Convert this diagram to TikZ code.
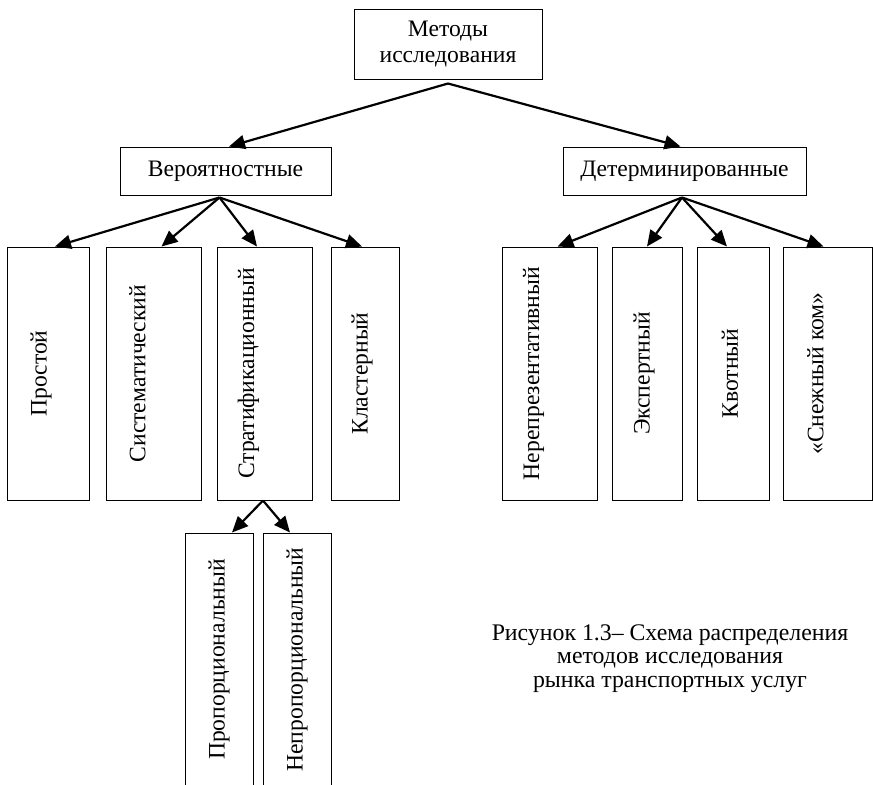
\documentclass[tikz,border=0pt]{standalone}
\usepackage{fontspec}
\setmainfont{Liberation Serif}
\usetikzlibrary{arrows.meta,calc,positioning}
\tikzset {
  >={Triangle[length=8pt,width=7pt]},
  every node/.style={font=\fontsize{11.8}{13}\selectfont},
  box/.style={draw,line width=0.5pt,inner sep=0pt},
  colbox/.style={box,minimum height=126.5pt},
  vtext/.style={rotate=90,inner sep=0pt},
  link/.style={->,line width=1.1pt},
}

\begin{document}
\begin{tikzpicture}[x=0.5pt,y=-0.5pt]
  \useasboundingbox (0,0) rectangle (873,784);
  \clip (0,0) rectangle (873,784);
  % upper levels
  \node[box,align=center,minimum width=94pt,minimum height=35pt] (methods) at (448,44) {Методы\\исследования};
  \node[box,minimum width=105.5pt,minimum height=24pt] (prob) at (225.5,171) {Вероятностные};
  \node[box,minimum width=121.5pt,minimum height=24pt] (det) at (684.5,171) {Детерминированные};
  % probabilistic sampling
  \node[colbox,minimum width=41pt] (simple) at (48,373.5) {};
  \node[colbox,minimum width=47.5pt] (system) at (153.5,373.5) {};
  \node[colbox,minimum width=47.5pt] (strat) at (264.5,373.5) {};
  \node[colbox,minimum width=34pt] (cluster) at (365,373.5) {};
  \node[vtext] (simple-t) at ([xshift=-3.5pt]simple.center) {Простой};
  \node[vtext] (system-t) at ([xshift=-8pt]system.center) {Систематический};
  \node[vtext] (strat-t) at ([xshift=-8pt]strat.center) {Стратификационный};
  \node[vtext] (cluster-t) at ([xshift=-1.5pt]cluster.center) {Кластерный};
  % deterministic sampling
  \node[colbox,minimum width=47.5pt] (nonrep) at (549.5,373.5) {};
  \node[colbox,minimum width=35pt] (expert) at (647,373.5) {};
  \node[colbox,minimum width=36pt] (quota) at (733,373.5) {};
  \node[colbox,minimum width=44.5pt] (snow) at (827.5,373.5) {};
  \node[vtext] (nonrep-t) at ([xshift=-8pt]nonrep.center) {Нерепрезентативный};
  \node[vtext] (expert-t) at ([xshift=-1.5pt]expert.center) {Экспертный};
  \node[vtext] (quota-t) at ([xshift=-1.5pt]quota.center) {Квотный};
  \node[vtext] (snow-t) at ([xshift=-6pt]snow.center) {«Снежный ком»};
  % stratified subtypes
  \node[colbox,minimum width=34pt] (prop) at (219,659.5) {};
  \node[colbox,minimum width=34pt] (nonprop) at (297,659.5) {};
  \node[vtext] (prop-t) at (prop.center) {Пропорциональный};
  \node[vtext] (nonprop-t) at (nonprop.center) {Непропорциональный};
  % arrows
  \coordinate (methods-o) at ([yshift=-2pt]methods.south);
  \coordinate (prob-o) at ([xshift=-3pt,yshift=-1pt]prob.south);
  \coordinate (det-o) at ([xshift=-1.25pt,yshift=-1pt]det.south);
  \coordinate (strat-o) at ([xshift=-0.75pt]strat.south);
  \draw[link] (methods-o) -- ([xshift=1.75pt]prob.north);
  \draw[link] (methods-o) -- ([xshift=-2pt]det.north);
  \draw[link] (prob-o) -- ([xshift=3.5pt]simple.north);
  \draw[link] (prob-o) -- ([xshift=4pt]system.north);
  \draw[link] (prob-o) -- ([xshift=-3.75pt]strat.north);
  \draw[link] (prob-o) -- ([xshift=-1.5pt]cluster.north);
  \draw[link] (det-o) -- ([xshift=4pt]nonrep.north);
  \draw[link] (det-o) -- (expert.north);
  \draw[link] (det-o) -- ([xshift=-3pt]quota.north);
  \draw[link] (det-o) -- ([xshift=-2pt]snow.north);
  \draw[link] (strat-o) -- ([xshift=6.5pt]prop.north);
  \draw[link] (strat-o) -- ([xshift=-3.5pt]nonprop.north);
  % caption
  \node[align=center,font=\fontsize{11.9}{11.7}\selectfont] (caption) at (670,658.5) {Рисунок 1.3– Схема распределения\\методов исследования\\рынка транспортных услуг};
\end{tikzpicture}
\end{document}
